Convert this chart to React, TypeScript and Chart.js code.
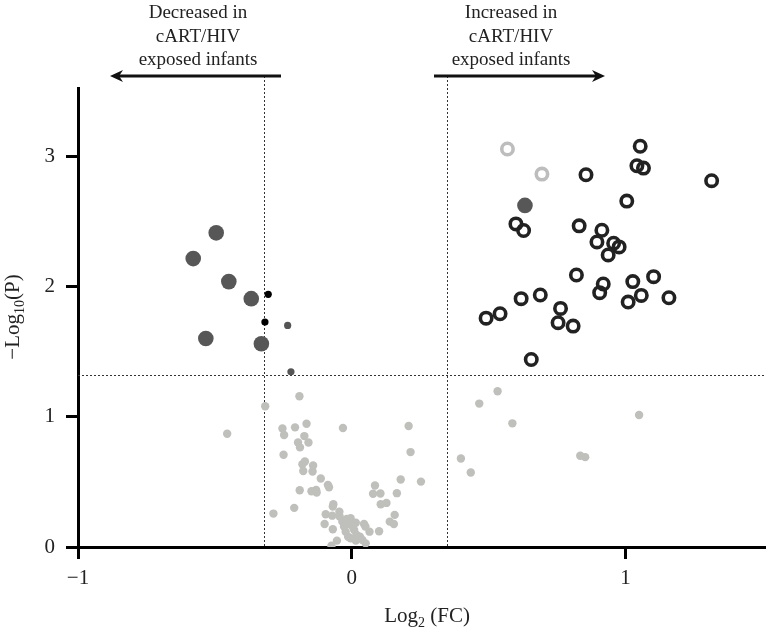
import { useEffect, useRef } from "react";
import { Chart, registerables } from "chart.js";

Chart.register(...registerables);

// ---- axis ranges & ticks ----
const X_MIN = -1;
const X_MAX = 1.51;
const Y_MIN = 0;
const Y_MAX = 3.53;
const X_TICKS = [-1, 0, 1];
const X_TICK_LABELS = ["\u22121", "0", "1"];
const Y_TICKS = [0, 1, 2, 3];
const Y_TICK_LABELS = ["0", "1", "2", "3"];

// ---- thresholds ----
const FC_DOWN = -0.32;
const FC_UP = 0.347;
const P_LINE = 1.326;

// ---- data: [log2 FC, -log10 P] ----
const downLarge: [number, number][] = [
  [-0.495, 2.416], [-0.579, 2.218], [-0.449, 2.041], [-0.367, 1.91],
  [-0.533, 1.603], [-0.33, 1.563],
];
const upLarge: [number, number][] = [[0.633, 2.627]];
const downSmallBlack: [number, number][] = [[-0.305, 1.943], [-0.317, 1.73]];
const downSmallDark: [number, number][] = [[-0.234, 1.704], [-0.222, 1.347]];
const upRings: [number, number][] = [
  [1.054, 3.082], [1.042, 2.932], [1.066, 2.914], [0.856, 2.863], [1.315, 2.817],
  [1.005, 2.66], [0.6, 2.485], [0.628, 2.434], [0.831, 2.47], [0.914, 2.436],
  [0.896, 2.346], [0.957, 2.336], [0.977, 2.308], [0.937, 2.246], [0.821, 2.092],
  [1.103, 2.079], [1.027, 2.041], [0.919, 2.023], [0.906, 1.956], [1.058, 1.935],
  [1.01, 1.884], [1.159, 1.917], [0.689, 1.938], [0.619, 1.91], [0.763, 1.835],
  [0.754, 1.725], [0.809, 1.699], [0.542, 1.794], [0.491, 1.76], [0.656, 1.442],
];
const upGreyRings: [number, number][] = [[0.569, 3.061], [0.695, 2.868]];
const notSignificant: [number, number][] = [
  [-0.455, 0.871], [-0.316, 1.082], [-0.191, 1.159], [-0.253, 0.912], [-0.247, 0.861],
  [-0.207, 0.92], [-0.165, 0.948], [-0.173, 0.853], [-0.196, 0.804], [-0.189, 0.766],
  [-0.158, 0.804], [-0.249, 0.709], [-0.032, 0.915], [0.208, 0.93], [0.215, 0.73],
  [-0.171, 0.658], [-0.18, 0.637], [-0.141, 0.627], [-0.177, 0.584], [-0.143, 0.581],
  [-0.113, 0.527], [-0.087, 0.478], [-0.083, 0.46], [-0.19, 0.437], [-0.147, 0.429],
  [-0.13, 0.439], [-0.128, 0.419], [-0.21, 0.301], [-0.286, 0.257], [-0.067, 0.329],
  [-0.069, 0.311], [-0.095, 0.252], [-0.071, 0.241], [-0.045, 0.272], [-0.044, 0.234],
  [-0.099, 0.177], [-0.069, 0.136], [-0.054, 0.049], [-0.074, 0.01], [-0.034, 0.195],
  [-0.028, 0.157], [-0.018, 0.216], [-0.004, 0.221], [-0.01, 0.177], [-0.022, 0.118],
  [-0.013, 0.079], [0.003, 0.157], [0.015, 0.187], [0.009, 0.131], [-0.004, 0.067],
  [0.018, 0.093], [0.03, 0.079], [0.015, 0.049], [0.039, 0.054], [0.051, 0.028],
  [0.045, 0.177], [0.05, 0.157], [0.065, 0.118], [0.1, 0.121], [0.085, 0.473],
  [0.078, 0.409], [0.105, 0.411], [0.106, 0.329], [0.127, 0.339], [0.179, 0.519],
  [0.165, 0.414], [0.253, 0.503], [0.157, 0.247], [0.139, 0.195], [0.154, 0.177],
  [0.466, 1.103], [0.533, 1.198], [0.587, 0.951], [0.399, 0.681], [0.435, 0.573],
  [0.835, 0.702], [0.853, 0.691], [1.05, 1.015],
];

// ---- annotation text ----
const LEFT_NOTE = ["Decreased in", "cART/HIV", "exposed infants"];
const RIGHT_NOTE = ["Increased in", "cART/HIV", "exposed infants"];

const SERIF = "'Liberation Serif', 'DejaVu Serif', serif";

const toPts = (a: [number, number][]) => a.map(([x, y]) => ({ x, y }));

function drawArrow(ctx: CanvasRenderingContext2D, from: number, to: number, y: number) {
  const dir = Math.sign(to - from);
  const headLen = 13;
  const headHalf = 6;
  ctx.beginPath();
  ctx.moveTo(from, y);
  ctx.lineTo(to - dir * headLen * 0.6, y);
  ctx.stroke();
  ctx.beginPath();
  ctx.moveTo(to, y);
  ctx.lineTo(to - dir * headLen, y - headHalf);
  ctx.lineTo(to - dir * headLen * 0.7, y);
  ctx.lineTo(to - dir * headLen, y + headHalf);
  ctx.closePath();
  ctx.fill();
}

const decorPlugin = {
  id: "volcanoDecor",
  beforeDatasetsDraw(chart: any) {
    const { ctx, chartArea, scales } = chart;
    const x = scales.x;
    const y = scales.y;
    ctx.save();
    ctx.strokeStyle = "#333";
    ctx.lineWidth = 1;
    ctx.setLineDash([2, 2]);
    const yp = Math.round(y.getPixelForValue(P_LINE)) + 0.5;
    ctx.beginPath();
    ctx.moveTo(chartArea.left, yp);
    ctx.lineTo(chartArea.right, yp);
    ctx.stroke();
    for (const v of [FC_DOWN, FC_UP]) {
      const xp = Math.round(x.getPixelForValue(v)) + 0.5;
      ctx.beginPath();
      ctx.moveTo(xp, 76);
      ctx.lineTo(xp, chartArea.bottom);
      ctx.stroke();
    }
    ctx.restore();
  },
  afterDraw(chart: any) {
    const { ctx } = chart;
    ctx.save();
    // annotations
    ctx.fillStyle = "#222";
    ctx.strokeStyle = "#111";
    ctx.font = `19px ${SERIF}`;
    ctx.textAlign = "center";
    ctx.textBaseline = "alphabetic";
    const baselines = [18, 42, 65];
    LEFT_NOTE.forEach((t, i) => ctx.fillText(t, 198, baselines[i]));
    RIGHT_NOTE.forEach((t, i) => ctx.fillText(t, 511, baselines[i]));
    ctx.lineWidth = 3;
    ctx.fillStyle = "#111";
    drawArrow(ctx, 281, 110, 76);
    drawArrow(ctx, 434, 605, 76);

    // x title: Log2 (FC)
    ctx.fillStyle = "#222";
    ctx.textAlign = "left";
    const big = `21px ${SERIF}`;
    const small = `14px ${SERIF}`;
    ctx.font = big;
    const w1 = ctx.measureText("Log").width;
    const w3 = ctx.measureText(" (FC)").width;
    ctx.font = small;
    const w2 = ctx.measureText("2").width;
    let sx = 427 - (w1 + w2 + w3) / 2;
    const by = 622;
    ctx.font = big;
    ctx.fillText("Log", sx, by);
    sx += w1;
    ctx.font = small;
    ctx.fillText("2", sx, by + 5);
    sx += w2;
    ctx.font = big;
    ctx.fillText(" (FC)", sx, by);

    // y title: -Log10(P)
    ctx.translate(19, 317);
    ctx.rotate(-Math.PI / 2);
    ctx.font = big;
    const a1 = ctx.measureText("\u2212Log").width;
    const a3 = ctx.measureText("(P)").width;
    ctx.font = small;
    const a2 = ctx.measureText("10").width;
    let tx = -(a1 + a2 + a3) / 2;
    ctx.font = big;
    ctx.fillText("\u2212Log", tx, 0);
    tx += a1;
    ctx.font = small;
    ctx.fillText("10", tx, 5);
    tx += a2;
    ctx.font = big;
    ctx.fillText("(P)", tx, 0);
    ctx.restore();
  },
};

export default function App() {
  const ref = useRef<HTMLCanvasElement | null>(null);

  useEffect(() => {
    if (!ref.current) return;
    const tickFont = { family: SERIF, size: 21 };
    const chart = new Chart(ref.current, {
      type: "scatter",
      data: {
        datasets: [
          {
            label: "not significant",
            data: toPts(notSignificant),
            backgroundColor: "#bfbfbc",
            borderWidth: 0,
            pointRadius: 4.2,
          },
          {
            label: "down large",
            data: toPts(downLarge),
            backgroundColor: "#575757",
            borderWidth: 0,
            pointRadius: 7.8,
          },
          {
            label: "up large",
            data: toPts(upLarge),
            backgroundColor: "#575757",
            borderWidth: 0,
            pointRadius: 7.8,
          },
          {
            label: "down small dark",
            data: toPts(downSmallDark),
            backgroundColor: "#555",
            borderWidth: 0,
            pointRadius: 3.6,
          },
          {
            label: "down small black",
            data: toPts(downSmallBlack),
            backgroundColor: "#000",
            borderWidth: 0,
            pointRadius: 3.6,
          },
          {
            label: "up grey rings",
            data: toPts(upGreyRings),
            backgroundColor: "rgba(0,0,0,0)",
            borderColor: "#bdbdbd",
            borderWidth: 3.6,
            pointRadius: 5.7,
          },
          {
            label: "up rings",
            data: toPts(upRings),
            backgroundColor: "rgba(0,0,0,0)",
            borderColor: "#222",
            borderWidth: 3.6,
            pointRadius: 5.7,
          },
        ],
      },
      options: {
        animation: false,
        responsive: false,
        maintainAspectRatio: false,
        events: [],
        layout: { padding: { top: 88, right: 10, left: 0, bottom: 0 } },
        plugins: {
          legend: { display: false },
          tooltip: { enabled: false },
          title: { display: false },
        },
        scales: {
          x: {
            type: "linear",
            min: X_MIN,
            max: X_MAX,
            afterBuildTicks: (s: any) => {
              s.ticks = X_TICKS.map((v) => ({ value: v }));
            },
            afterFit: (s: any) => {
              s.height = 92;
            },
            ticks: {
              callback: (v: any) => X_TICK_LABELS[X_TICKS.indexOf(Number(v))] ?? "",
              font: tickFont,
              color: "#222",
              padding: 7,
              maxRotation: 0,
            },
            grid: {
              display: true,
              drawOnChartArea: false,
              drawTicks: true,
              tickLength: 12,
              tickWidth: 3,
              tickColor: "#000",
            },
            border: { display: true, width: 3, color: "#000" },
          },
          y: {
            type: "linear",
            min: Y_MIN,
            max: Y_MAX,
            afterBuildTicks: (s: any) => {
              s.ticks = Y_TICKS.map((v) => ({ value: v }));
            },
            afterFit: (s: any) => {
              s.width = 78;
            },
            ticks: {
              callback: (v: any) => Y_TICK_LABELS[Y_TICKS.indexOf(Number(v))] ?? "",
              font: tickFont,
              color: "#222",
              padding: 11,
            },
            grid: {
              display: true,
              drawOnChartArea: false,
              drawTicks: true,
              tickLength: 12,
              tickWidth: 3,
              tickColor: "#000",
            },
            border: { display: true, width: 3, color: "#000" },
          },
        },
      },
      plugins: [decorPlugin],
    } as any);
    return () => chart.destroy();
  }, []);

  return (
    <div style={{ position: "fixed", left: 0, top: 0, width: 775, height: 639, background: "#fff" }}>
      <canvas ref={ref} width={775} height={639} style={{ width: 775, height: 639, display: "block" }} />
    </div>
  );
}
